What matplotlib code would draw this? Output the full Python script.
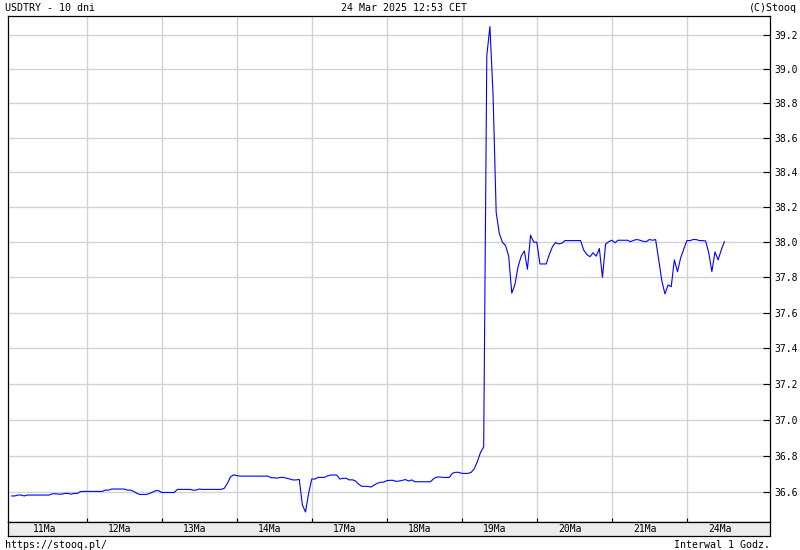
import matplotlib

matplotlib.use("Agg")
import matplotlib.pyplot as plt
from matplotlib.ticker import FixedLocator, NullLocator, FuncFormatter

plt.rcParams["font.family"] = ["DejaVu Sans Mono"]

# kurs USDTRY, interwal 1 godz. (11 Mar - 24 Mar 2025)
usdtry = [
    # 11Ma
    36.580, 36.580, 36.585, 36.585, 36.580, 36.585, 36.585, 36.585, 36.585, 36.585, 36.585, 36.585,
    36.585, 36.592, 36.592, 36.590, 36.590, 36.594, 36.594, 36.590, 36.594, 36.594, 36.604, 36.605,
    # 12Ma
    36.605, 36.605, 36.605, 36.605, 36.605, 36.605, 36.612, 36.612, 36.618, 36.618, 36.618, 36.618,
    36.618, 36.612, 36.612, 36.605, 36.595, 36.588, 36.588, 36.588, 36.593, 36.600, 36.609, 36.609,
    # 13Ma
    36.599, 36.599, 36.599, 36.599, 36.599, 36.616, 36.616, 36.616, 36.616, 36.616, 36.612, 36.612,
    36.618, 36.616, 36.616, 36.616, 36.616, 36.616, 36.616, 36.616, 36.622, 36.649, 36.685, 36.696,
    # 14Ma
    36.692, 36.689, 36.689, 36.689, 36.689, 36.689, 36.689, 36.689, 36.689, 36.689, 36.689, 36.680,
    36.680, 36.678, 36.682, 36.682, 36.677, 36.673, 36.668, 36.668, 36.671, 36.530, 36.492, 36.595,
    # 17Ma
    36.673, 36.673, 36.682, 36.682, 36.682, 36.690, 36.695, 36.695, 36.695, 36.673, 36.677, 36.677,
    36.668, 36.669, 36.662, 36.645, 36.633, 36.633, 36.632, 36.629, 36.640, 36.650, 36.655, 36.656,
    # 18Ma
    36.664, 36.666, 36.666, 36.660, 36.662, 36.666, 36.670, 36.662, 36.668, 36.658, 36.658, 36.658,
    36.658, 36.658, 36.658, 36.675, 36.684, 36.684, 36.682, 36.682, 36.682, 36.705, 36.710, 36.710,
    # 19Ma
    36.704, 36.704, 36.704, 36.710, 36.730, 36.770, 36.820, 36.850, 39.080, 39.250, 38.850, 38.170,
    38.050, 38.000, 37.980, 37.920, 37.710, 37.760, 37.860, 37.920, 37.950, 37.846, 38.040, 38.000,
    # 20Ma
    38.000, 37.876, 37.876, 37.876, 37.930, 37.974, 37.998, 37.990, 37.994, 38.009, 38.009, 38.009,
    38.009, 38.009, 38.009, 37.955, 37.930, 37.917, 37.940, 37.920, 37.964, 37.800, 37.989, 38.003,
    # 21Ma
    38.011, 37.997, 38.011, 38.011, 38.011, 38.011, 38.003, 38.011, 38.015, 38.011, 38.005, 38.003,
    38.015, 38.011, 38.015, 37.900, 37.780, 37.706, 37.757, 37.747, 37.899, 37.832, 37.910, 37.960,
    # 24Ma
    38.009, 38.009, 38.015, 38.015, 38.009, 38.009, 38.007, 37.940, 37.832, 37.945, 37.899, 37.955,
    38.003,
]
hours = list(range(len(usdtry)))

day_labels = ["11Ma", "12Ma", "13Ma", "14Ma", "17Ma", "18Ma", "19Ma", "20Ma", "21Ma", "24Ma"]
y_ticks = [36.6, 36.8, 37.0, 37.2, 37.4, 37.6, 37.8, 38.0, 38.2, 38.4, 38.6, 38.8, 39.0, 39.2]

W, H = 800, 550
fig = plt.figure(figsize=(W / 100, H / 100), dpi=100)

# glowny wykres (piksele: x 8-770, y 16-521.5)
ax = fig.add_axes([8 / W, (H - 521.5) / H, 762 / W, 505.5 / H])
ax.set_yscale("log")
ax.plot(hours, usdtry, color="#0000ff", lw=0.8)
ax.set_xlim(-1.18, 242.6)
ax.set_ylim(36.44, 39.312)

ax.yaxis.set_major_locator(FixedLocator(y_ticks))
ax.yaxis.set_minor_locator(NullLocator())
ax.yaxis.set_major_formatter(FuncFormatter(lambda v, p: f"{v:.1f}"))
ax.yaxis.tick_right()
ax.tick_params(axis="y", direction="in", length=5, width=0.8, labelsize=7, pad=3)

ax.set_xticks([24 * k for k in range(1, 10)])
ax.tick_params(axis="x", direction="in", length=3, width=0.8, labelbottom=False)

ax.grid(True, color="#d3d3d3", lw=1)
ax.set_axisbelow(True)
for s in ax.spines.values():
    s.set_linewidth(0.9)

# pasek z datami
bax = fig.add_axes([8 / W, (H - 536) / H, 762 / W, 14.5 / H])
bax.set_facecolor("#ececec")
bax.set_xlim(-1.18, 242.6)
bax.set_ylim(0, 1)
bax.set_xticks([])
bax.set_yticks([])
for s in bax.spines.values():
    s.set_linewidth(0.9)
for k, lab in enumerate(day_labels):
    bax.text(24 * k + 10.6, 0.45, lab, ha="center", va="center", fontsize=7)

# napisy
fig.text(5 / W, 1 - 8 / H, "USDTRY - 10 dni", ha="left", va="center", fontsize=7.2)
fig.text(404 / W, 1 - 8 / H, "24 Mar 2025 12:53 CET", ha="center", va="center", fontsize=7.2)
fig.text(797 / W, 1 - 8 / H, "(C)Stooq", ha="right", va="center", fontsize=7.2)
fig.text(5 / W, 1 - 545 / H, "https://stooq.pl/", ha="left", va="center", fontsize=7.2)
fig.text(770 / W, 1 - 545 / H, "Interwal 1 Godz.", ha="right", va="center", fontsize=7.2)

fig.savefig("out.png", dpi=100, facecolor="white")
